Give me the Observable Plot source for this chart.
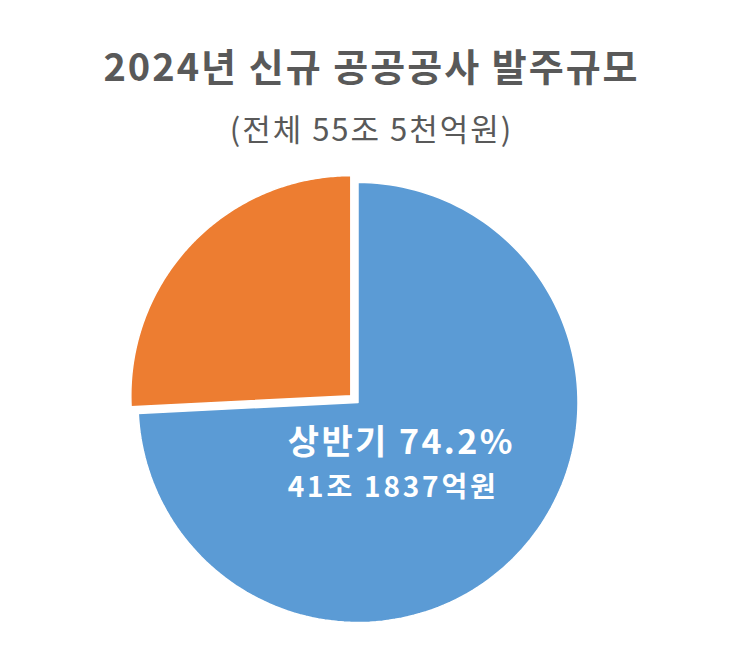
<!DOCTYPE html>
<html>
<head>
<meta charset="utf-8">
<script src="https://cdn.jsdelivr.net/npm/d3@7"></script>
<script src="https://cdn.jsdelivr.net/npm/@observablehq/plot@0.6"></script>
<style>
  html, body { margin: 0; padding: 0; background: #fff; }
  body { font-family: "Noto Sans CJK KR", "Noto Sans", sans-serif; }
  #wrap { width: 743px; }
  #head { position: relative; height: 160px; }
  .t { position: absolute; left: 0; width: 743px; text-align: center; transform: translateY(-50%); white-space: nowrap; color: #595959; }
  #title { top: 64px; font-size: 38px; font-weight: 700; letter-spacing: 2px; }
  #subtitle { top: 127px; font-size: 31px; font-weight: 400; letter-spacing: 2px; }
  #chart svg { display: block; }
</style>
</head>
<body>
<div id="wrap">
  <div id="head">
    <div class="t" id="title">2024년 신규 공공공사 발주규모</div>
    <div class="t" id="subtitle">(전체 55조 5천억원)</div>
  </div>
  <div id="chart"></div>
</div>
<script>
// ---- data ----
const categories = ["상반기", "하반기"];
const amounts = [41.1837, 14.3163];          // 조원
const sliceColors = ["#5B9BD5", "#ED7D31"];
const explodeFrac = [0, 0.045];              // fraction of radius
const labelLines = ["상반기 74.2%", "41조 1837억원"];

// ---- geometry derived from data ----
const W = 743, H = 503, R = 220, CX = 357.5, CY = 242;
const data = categories.map((c, i) => ({ category: c, amount: amounts[i], explode: explodeFrac[i] }));
const arcs = d3.pie().sort(null).value(d => d.amount)(data);

const poly = [];
for (const a of arcs) {
  const mid = (a.startAngle + a.endAngle) / 2;
  const ox = Math.sin(mid) * a.data.explode, oy = Math.cos(mid) * a.data.explode;
  poly.push({ category: a.data.category, x: ox, y: oy });
  const n = 160;
  for (let k = 0; k <= n; k++) {
    const t = a.startAngle + (a.endAngle - a.startAngle) * k / n;
    poly.push({ category: a.data.category, x: ox + Math.sin(t), y: oy + Math.cos(t) });
  }
  poly.push({ category: a.data.category, x: ox, y: oy });
}

// label anchored at the centroid of the first slice
const a0 = arcs[0];
const mid0 = (a0.startAngle + a0.endAngle) / 2;
const lr = 0.40;
const lx = Math.sin(mid0) * lr, ly = Math.cos(mid0) * lr;
const labels = [
  { text: labelLines[0], x: lx, y: ly },
  { text: labelLines[1], x: lx, y: ly }
];

const chart = Plot.plot({
  width: W,
  height: H,
  margin: 0,
  x: { domain: [-CX / R, (W - CX) / R], axis: null },
  y: { domain: [-(H - CY) / R, CY / R], axis: null },
  color: { domain: categories, range: sliceColors },
  style: { fontFamily: '"Noto Sans CJK KR", sans-serif', background: "#fff" },
  marks: [
    Plot.line(poly, { x: "x", y: "y", z: "category", fill: "category", stroke: "white", strokeWidth: 1.5, strokeLinejoin: "miter", curve: "linear" }),
    Plot.text(labels.slice(0, 1), { x: "x", y: "y", text: "text", fill: "white", fontSize: 34, fontWeight: 600, textAnchor: "start", dx: -134, dy: -20 }),
    Plot.text(labels.slice(1), { x: "x", y: "y", text: "text", fill: "white", fontSize: 28, fontWeight: 700, textAnchor: "start", dx: -134, dy: 25 })
  ]
});
const textGroups = chart.querySelectorAll("g[aria-label='text']");
if (textGroups[0]) textGroups[0].setAttribute("letter-spacing", "2.4");
if (textGroups[1]) textGroups[1].setAttribute("letter-spacing", "2.8");
document.getElementById("chart").appendChild(chart);
</script>
</body>
</html>
